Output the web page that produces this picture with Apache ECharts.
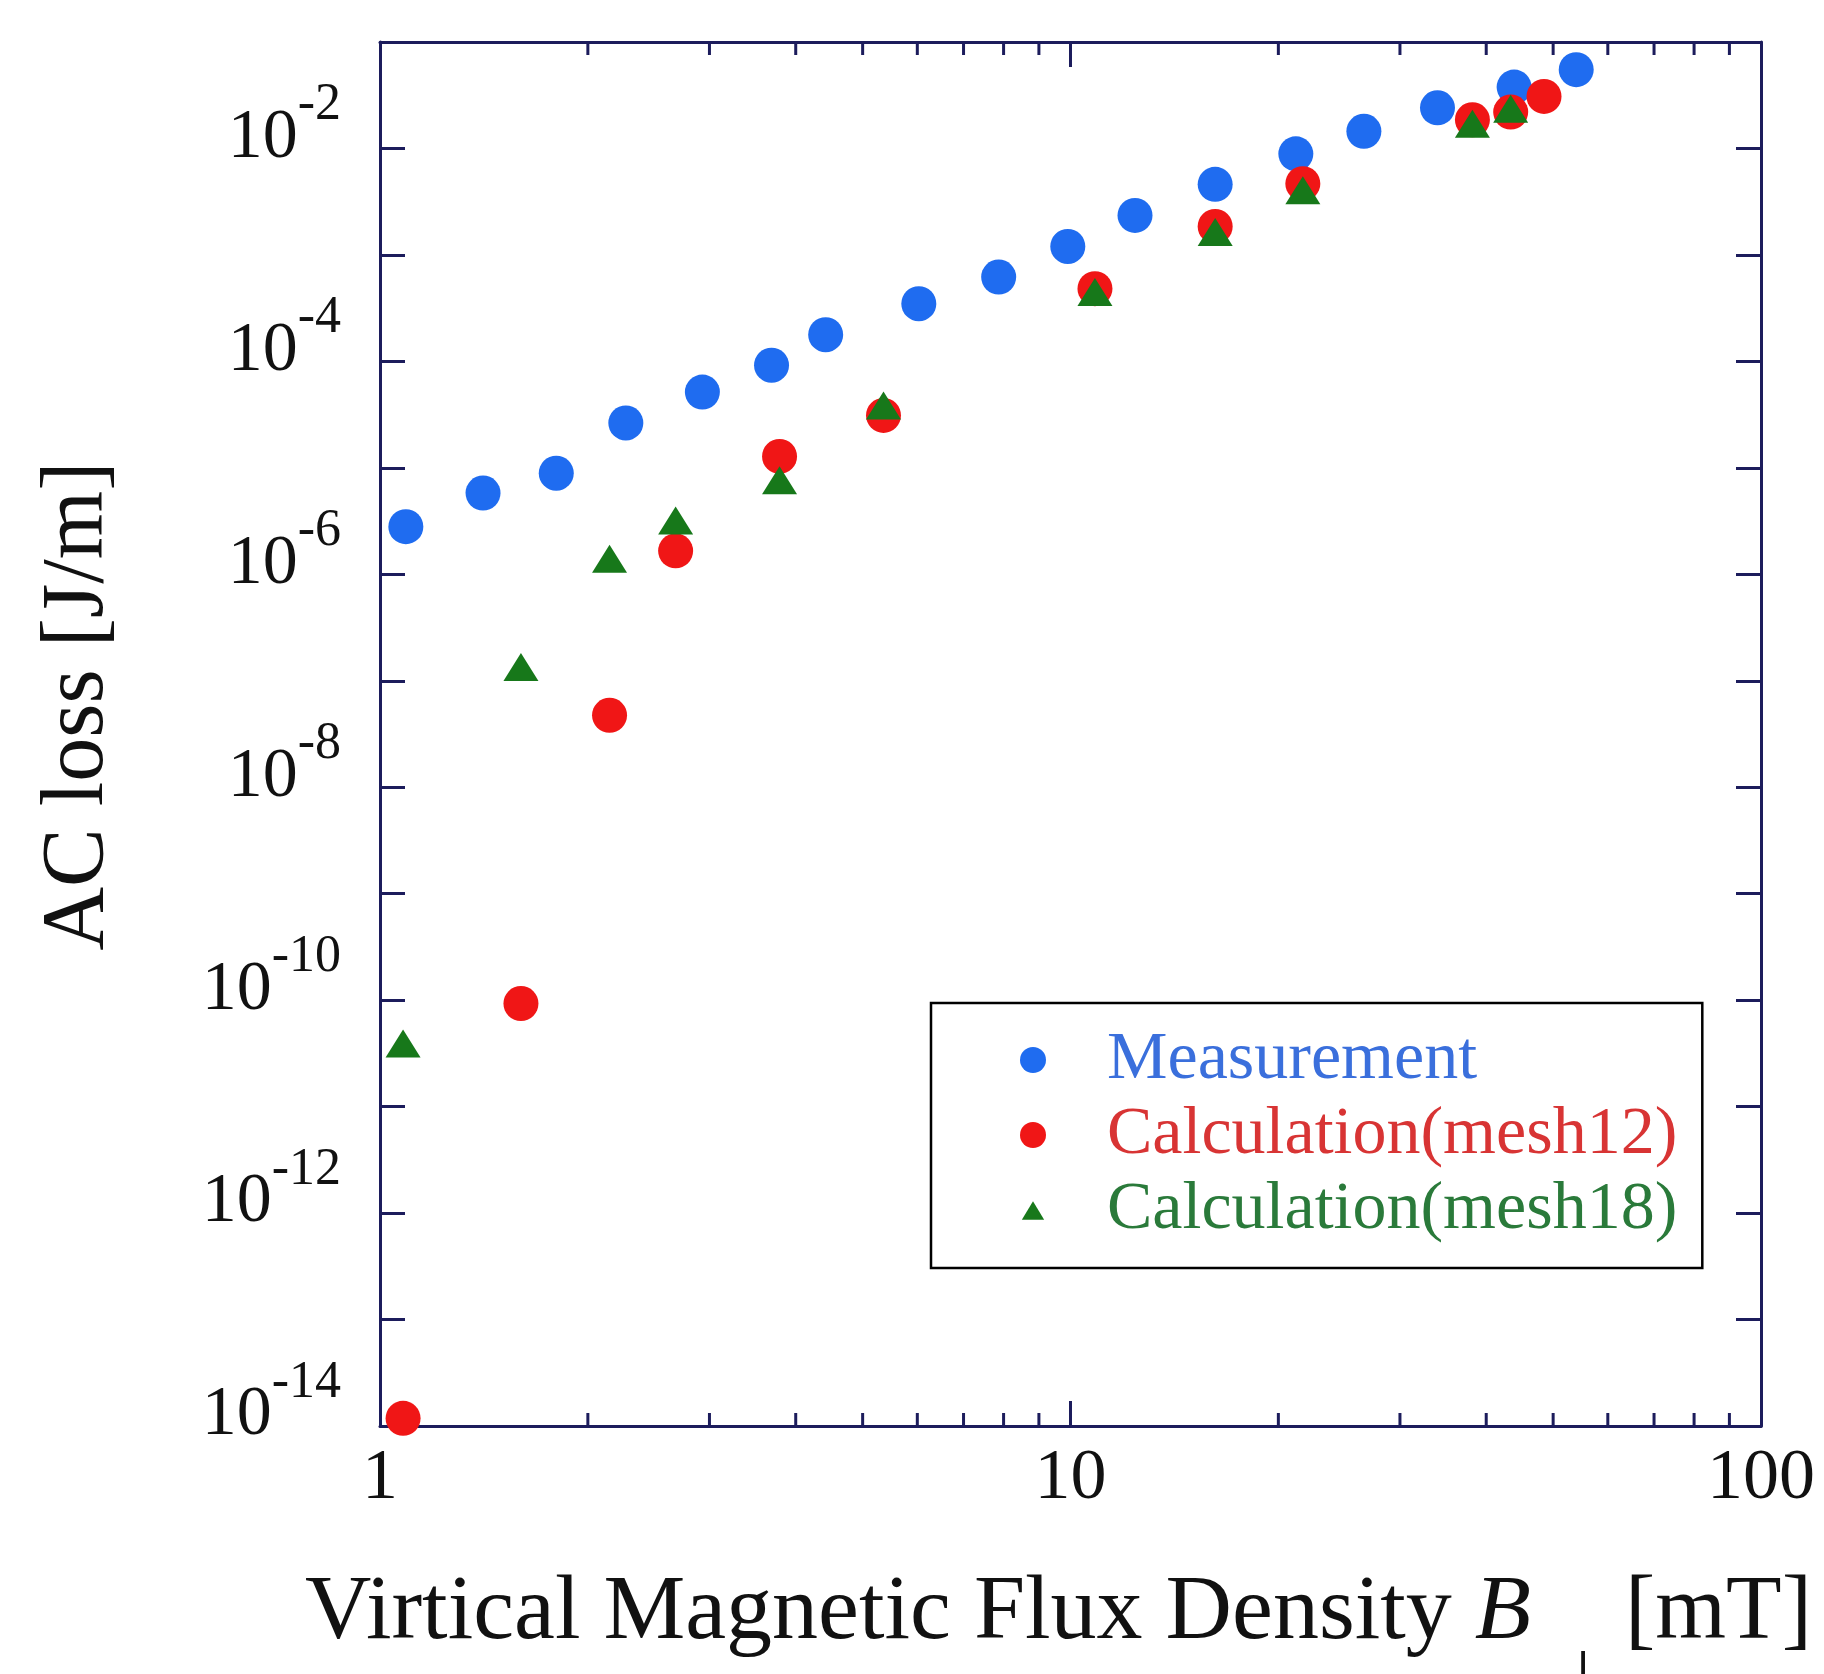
<!DOCTYPE html>
<html>
<head>
<meta charset="utf-8">
<script src="https://cdn.jsdelivr.net/npm/echarts@6/dist/echarts.min.js"></script>
<style>
  html, body { margin: 0; padding: 0; background: #fff; }
  #chart { width: 1824px; height: 1674px; }
</style>
</head>
<body>
<div id="chart"></div>
<script>
// 横轴：垂直磁通密度 B [mT]，纵轴：交流损耗 [J/m]
const measB = [1.09, 1.41, 1.80, 2.27, 2.93, 3.69, 4.42, 6.03, 7.87, 9.91, 12.4, 16.2, 21.2, 26.6, 34.0, 43.9, 54.0]
const measLoss = [2.8e-6, 5.8e-6, 8.9e-6, 2.64e-5, 5.15e-5, 9.2e-5, 1.78e-4, 3.48e-4, 6.2e-4, 1.2e-3, 2.35e-3, 4.6e-3, 8.9e-3, 1.45e-2, 2.41e-2, 3.77e-2, 5.5e-2]

const mesh12B = [1.08, 1.60, 2.15, 2.68, 3.79, 5.36, 10.85, 16.2, 21.7, 38.2, 43.4, 48.5]
const mesh12Loss = [1.18e-14, 9.3e-11, 4.74e-8, 1.66e-6, 1.28e-5, 3.11e-5, 4.82e-4, 1.85e-3, 4.67e-3, 1.86e-2, 2.2e-2, 3.08e-2]

const mesh18B = [1.08, 1.60, 2.15, 2.68, 3.79, 5.36, 10.85, 16.2, 21.7, 38.2, 43.4]
const mesh18Loss = [3.92e-11, 1.35e-7, 1.40e-6, 3.21e-6, 7.64e-6, 3.86e-5, 4.48e-4, 1.64e-3, 4.04e-3, 1.71e-2, 2.36e-2]

const seriesNames = ['Measurement', 'Calculation(mesh12)', 'Calculation(mesh18)']
// 纵轴只标偶数次幂
const yLabelExps = [-14, -12, -10, -8, -6, -4, -2]
// 横轴的次刻度
const minorTicksB = [2, 3, 4, 5, 6, 7, 8, 9, 20, 30, 40, 50, 60, 70, 80, 90]

const X_MIN = 1, X_MAX = 100
const Y_MIN = 1e-14, Y_MAX = 1e-1

const BLUE = '#1f6cf0'
const RED = '#f01616'
const GREEN = '#17781a'
const AXIS = '#1c1c5c'
const SERIF = '"Liberation Serif", "Times New Roman", serif'
// 图例里的小三角，四角加空点让它缩小一点
const LEGEND_TRIANGLE = 'path://M1,0L1,0M29,27L29,27M3,24L15,4L27,24Z'

const pairs = (xs, ys) => xs.map((x, i) => [x, ys[i]])

const chart = echarts.init(document.getElementById('chart'))

const axisLine = { show: true, lineStyle: { color: AXIS, width: 3 } }
const axisTick = { show: true, inside: true, length: 25, lineStyle: { color: AXIS, width: 3 } }

const option = {
  backgroundColor: '#fff',
  animation: false,
  grid: { left: 380, top: 42, right: 63, bottom: 248, containLabel: false, outerBoundsMode: 'none' },
  xAxis: [
    {
      type: 'log', logBase: 10, min: X_MIN, max: X_MAX, interval: 1, position: 'bottom',
      axisLine, axisTick,
      splitLine: { show: false },
      axisLabel: {
        margin: 17,
        fontFamily: SERIF, fontSize: 72, color: '#111',
        formatter: v => String(Math.round(v))
      }
    },
    {
      type: 'log', logBase: 10, min: X_MIN, max: X_MAX, interval: 1, position: 'top',
      axisLine, axisTick, splitLine: { show: false }, axisLabel: { show: false }
    }
  ],
  yAxis: [
    {
      type: 'log', logBase: 10, min: Y_MIN, max: Y_MAX, interval: 1, position: 'left',
      axisLine, axisTick, splitLine: { show: false },
      axisLabel: {
        margin: 39,
        formatter: v => {
          const e = Math.round(Math.log10(v))
          return yLabelExps.includes(e) ? '{b|10}{s|' + e + '}' : ''
        },
        rich: {
          // 行高撑大，指数贴顶
          b: { fontFamily: SERIF, fontSize: 70, lineHeight: 138, padding: [0, 0, 20, 0], color: '#111' },
          s: { fontFamily: SERIF, fontSize: 52, lineHeight: 52, verticalAlign: 'top', color: '#111' }
        }
      }
    },
    {
      type: 'log', logBase: 10, min: Y_MIN, max: Y_MAX, interval: 1, position: 'right',
      axisLine, axisTick, splitLine: { show: false }, axisLabel: { show: false }
    }
  ],
  legend: {
    orient: 'vertical',
    left: 931, top: 1003,
    padding: [22, 25, 23, 89],
    itemWidth: 26, itemHeight: 26, itemGap: 5,
    borderColor: '#000', borderWidth: 2.5, borderRadius: 0,
    backgroundColor: '#fff',
    textStyle: { fontFamily: SERIF, fontSize: 68, lineHeight: 70, padding: [0, 0, 0, 56] },
    data: [
      { name: seriesNames[0], textStyle: { color: '#3a6fdc' } },
      { name: seriesNames[1], textStyle: { color: '#d83434' } },
      { name: seriesNames[2], icon: LEGEND_TRIANGLE, textStyle: { color: '#2a7a3a' } }
    ]
  },
  series: [
    {
      type: 'custom', name: 'minor', silent: true, clip: false,
      data: minorTicksB.map(b => [b, Y_MIN]),
      renderItem: (params, api) => {
        const x = api.value(0)
        const bot = api.coord([x, Y_MIN])
        const top = api.coord([x, Y_MAX])
        const style = { stroke: AXIS, lineWidth: 3 }
        return {
          type: 'group',
          children: [
            { type: 'line', shape: { x1: bot[0], y1: bot[1], x2: bot[0], y2: bot[1] - 13 }, style },
            { type: 'line', shape: { x1: top[0], y1: top[1], x2: top[0], y2: top[1] + 13 }, style }
          ]
        }
      }
    },
    {
      type: 'scatter', name: seriesNames[0], symbol: 'circle', symbolSize: 35,
      itemStyle: { color: BLUE, opacity: 1 },
      data: pairs(measB, measLoss)
    },
    {
      type: 'scatter', name: seriesNames[1], symbol: 'circle', symbolSize: 35,
      itemStyle: { color: RED, opacity: 1 },
      data: pairs(mesh12B, mesh12Loss)
    },
    {
      type: 'scatter', name: seriesNames[2], symbol: 'triangle', symbolSize: [35, 28],
      itemStyle: { color: GREEN, opacity: 1 },
      data: pairs(mesh18B, mesh18Loss)
    }
  ],
  graphic: [
    {
      type: 'text', x: 79, y: 706, rotation: Math.PI / 2,
      style: { text: 'AC loss [J/m]', font: '88px "Liberation Serif"', fill: '#111', align: 'center', verticalAlign: 'middle' }
    },
    {
      type: 'text', x: 305, y: 1614,
      style: {
        text: '{n|Virtical Magnetic Flux Density }{i|B}',
        rich: {
          n: { fontFamily: SERIF, fontSize: 92, fill: '#111', color: '#111' },
          i: { fontFamily: SERIF, fontStyle: 'italic', fontSize: 92, fill: '#111', color: '#111' }
        },
        align: 'left', verticalAlign: 'middle'
      }
    },
    {
      type: 'text', x: 1583, y: 1648,
      style: { text: '⊥', font: 'italic 48px "DejaVu Serif"', fill: '#111', align: 'center', verticalAlign: 'top' }
    },
    {
      type: 'text', x: 1812, y: 1614,
      style: { text: '[mT]', font: '91px "Liberation Serif"', fill: '#111', align: 'right', verticalAlign: 'middle' }
    }
  ]
}

chart.setOption(option)
</script>
</body>
</html>
